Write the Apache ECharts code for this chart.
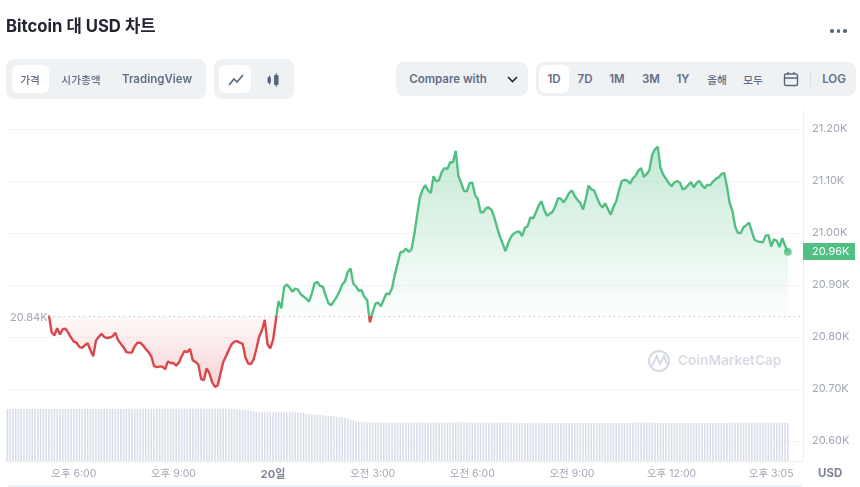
<!DOCTYPE html>
<html>
<head>
<meta charset="utf-8">
<title>Bitcoin 대 USD 차트</title>
<script src="https://cdn.jsdelivr.net/npm/echarts@6/dist/echarts.min.js"></script>
<style>
  html, body { margin: 0; padding: 0; background: #fff; }
  body { width: 860px; height: 487px; position: relative; overflow: hidden;
         font-family: Inter, "Noto Sans CJK KR", sans-serif; color: #616e85; }
  #chart { position: absolute; left: 0; top: 0; width: 860px; height: 487px; }
  .title { position: absolute; left: 6px; top: 14px; font-size: 16.7px; font-weight: 700; color: #222531; line-height: 24px; }
  .more { position: absolute; left: 830px; top: 29px; display: flex; gap: 3px; }
  .more i { width: 3.5px; height: 3.5px; border-radius: 50%; background: #58667e; }
  .panel { position: absolute; background: #eff2f5; border-radius: 8px; }
  .pill { position: absolute; background: #fff; border-radius: 6px; }
  .t { position: absolute; transform: translate(-50%, -50%); font-size: 11.5px; font-weight: 600; white-space: nowrap; }
  .k { font-size: 10.7px; font-weight: 500; }
  svg { position: absolute; }
</style>
</head>
<body>
<div id="chart"></div>

<div class="title">Bitcoin 대 USD 차트</div>
<div class="more"><i></i><i></i><i></i></div>

<div class="panel" style="left:6px;top:59px;width:200px;height:40px"></div>
<div class="pill" style="left:12px;top:65px;width:37px;height:28px"></div>
<div class="t k" style="left:30px;top:79px">가격</div>
<div class="t k" style="left:81px;top:79px">시가총액</div>
<div class="t" style="left:157px;top:79px">TradingView</div>

<div class="panel" style="left:214px;top:59px;width:80px;height:40px"></div>
<div class="pill" style="left:219px;top:65px;width:32px;height:28px"></div>
<svg style="left:228px;top:73px" width="16" height="14" viewBox="0 0 16 14" fill="none" stroke="#58667e" stroke-width="1.6"><path d="M1 12 L6 6 L9 9 L15 2"/></svg>
<svg style="left:266px;top:72px" width="14" height="16" viewBox="0 0 14 16" fill="#58667e"><rect x="1.5" y="5" width="3.5" height="6" rx="1"/><rect x="3" y="3.5" width="1" height="9"/><rect x="8" y="3" width="4.5" height="10" rx="1"/><rect x="9.7" y="1" width="1" height="14"/></svg>

<div class="panel" style="left:396px;top:62px;width:132px;height:34px"></div>
<div class="t" style="left:448px;top:79px">Compare with</div>
<svg style="left:506px;top:75px" width="13" height="9" viewBox="0 0 13 9" fill="none" stroke="#222531" stroke-width="1.6"><path d="M2 2 L6.5 6.5 L11 2"/></svg>

<div class="panel" style="left:536px;top:62px;width:320px;height:34px"></div>
<div class="pill" style="left:539px;top:65px;width:30px;height:28px"></div>
<div class="t" style="left:554px;top:79px">1D</div>
<div class="t" style="left:585px;top:79px">7D</div>
<div class="t" style="left:617px;top:79px">1M</div>
<div class="t" style="left:651px;top:79px">3M</div>
<div class="t" style="left:683px;top:79px">1Y</div>
<div class="t k" style="left:717px;top:79px">올해</div>
<div class="t k" style="left:753px;top:79px">모두</div>
<svg style="left:783px;top:71px" width="16" height="16" viewBox="0 0 16 16" fill="none" stroke="#58667e" stroke-width="1.4"><rect x="1.5" y="3" width="13" height="11.5" rx="1.5"/><path d="M1.5 7 H14.5 M5 1 V3 M11 1 V3"/></svg>
<div style="position:absolute;left:810px;top:72px;width:1px;height:14px;background:#d9dee6"></div>
<div class="t" style="left:834px;top:79px">LOG</div>

<script>
// chart values, one slot = 5 minutes
const slotCount = 288;
const tickSlots = [24, 60, 96, 132, 168, 204, 240, 276];
const tickLabels = ['오후 6:00', '오후 9:00', '20일', '오전 3:00', '오전 6:00', '오전 9:00', '오후 12:00', '오후 3:05'];
const yTicks = [20600, 20700, 20800, 20900, 21000, 21100, 21200];
const basePrice = 20840;
const priceStartSlot = 15;
const prices = [
  20842, 20809, 20803, 20817, 20805, 20815, 20816, 20808, 20799, 20791,
  20789, 20781, 20779, 20784, 20788, 20775, 20763, 20793, 20800, 20806,
  20800, 20798, 20799, 20801, 20808, 20794, 20787, 20780, 20771, 20770,
  20770, 20782, 20789, 20789, 20784, 20777, 20771, 20763, 20744, 20742,
  20743, 20743, 20738, 20753, 20750, 20750, 20745, 20751, 20763, 20773,
  20771, 20777, 20755, 20752, 20747, 20719, 20717, 20740, 20730, 20713,
  20704, 20707, 20730, 20752, 20763, 20775, 20786, 20791, 20792, 20789,
  20787, 20761, 20749, 20748, 20757, 20778, 20801, 20813, 20833, 20786,
  20778, 20794, 20832, 20869, 20855, 20896, 20901, 20895, 20887, 20893,
  20891, 20882, 20878, 20874, 20868, 20884, 20903, 20906, 20898, 20897,
  20880, 20865, 20861, 20869, 20877, 20888, 20901, 20907, 20925, 20932,
  20903, 20897, 20889, 20890, 20877, 20871, 20828, 20848, 20864, 20866,
  20859, 20872, 20884, 20882, 20894, 20920, 20941, 20963, 20964, 20970,
  20964, 20968, 20996, 21032, 21067, 21083, 21092, 21082, 21077, 21109,
  21099, 21102, 21118, 21125, 21123, 21136, 21136, 21158, 21109, 21096,
  21081, 21080, 21096, 21097, 21073, 21065, 21040, 21040, 21048, 21049,
  21044, 21029, 21010, 20993, 20979, 20965, 20981, 20993, 20999, 21002,
  21003, 20994, 21010, 21013, 21030, 21028, 21040, 21053, 21061, 21044,
  21033, 21037, 21041, 21051, 21067, 21066, 21059, 21067, 21077, 21082,
  21071, 21064, 21058, 21045, 21065, 21091, 21084, 21082, 21069, 21056,
  21049, 21057, 21046, 21035, 21050, 21061, 21082, 21100, 21102, 21101,
  21095, 21105, 21110, 21120, 21125, 21108, 21113, 21121, 21150, 21161,
  21166, 21125, 21112, 21104, 21096, 21090, 21097, 21100, 21097, 21084,
  21086, 21092, 21098, 21088, 21096, 21100, 21092, 21086, 21093, 21092,
  21099, 21104, 21107, 21113, 21116, 21090, 21058, 21042, 21012, 21000,
  21000, 21011, 21015, 21020, 21003, 20987, 20984, 20983, 20982, 20995,
  20996, 20974, 20988, 20985, 20973, 20990, 20976, 20964
];
const volumes = [
  52.0, 52.0, 51.9, 52.0, 52.0, 52.0, 51.9, 52.0, 52.0, 52.0, 52.0, 51.9, 52.0, 52.0, 52.0, 52.0, 51.9, 52.0, 52.0, 52.0,
  52.0, 52.0, 51.9, 52.0, 52.0, 52.0, 52.0, 52.0, 51.9, 52.0, 52.0, 52.0, 52.0, 52.0, 52.0, 51.9, 52.0, 52.0, 52.0, 52.0,
  52.1, 52.1, 52.0, 52.1, 52.2, 52.2, 52.1, 52.2, 52.2, 52.3, 52.2, 52.3, 52.3, 52.4, 52.3, 52.4, 52.4, 52.4, 52.5, 52.5,
  52.4, 52.5, 52.5, 52.6, 52.5, 52.5, 52.6, 52.5, 52.5, 52.5, 52.6, 52.6, 52.5, 52.5, 52.5, 52.4, 52.5, 52.4, 52.3, 52.3,
  52.2, 52.1, 52.0, 51.8, 51.6, 51.2, 50.8, 50.4, 50.0, 49.7, 49.4, 49.1, 48.9, 48.8, 48.7, 48.7, 48.8, 48.7, 48.7, 48.8,
  48.7, 48.7, 48.7, 48.8, 48.7, 48.6, 48.4, 47.8, 47.3, 47.0, 46.7, 46.4, 46.2, 46.0, 45.7, 45.4, 45.2, 45.0, 44.7, 44.4,
  44.0, 43.6, 43.1, 42.5, 41.6, 40.6, 39.6, 39.0, 38.6, 38.5, 38.4, 38.4, 38.3, 38.3, 38.4, 38.3, 38.3, 38.3, 38.2, 38.3,
  38.3, 38.2, 38.3, 38.2, 38.3, 38.3, 38.2, 38.2, 38.3, 38.2, 38.3, 38.2, 38.2, 38.2, 38.3, 38.2, 38.2, 38.3, 38.2, 38.2,
  38.4, 38.5, 38.5, 38.6, 38.5, 38.5, 38.4, 38.4, 38.3, 38.3, 38.3, 38.2, 38.2, 38.3, 38.2, 38.2, 38.2, 38.2, 38.1, 38.2,
  38.2, 38.2, 38.1, 38.1, 38.2, 38.1, 38.1, 38.1, 38.2, 38.1, 38.1, 38.2, 38.1, 38.1, 38.1, 38.1, 38.1, 38.0, 38.1, 38.1,
  38.0, 38.1, 38.1, 38.0, 38.0, 38.1, 38.0, 38.0, 38.0, 38.1, 38.0, 38.0, 38.0, 38.0, 38.1, 38.0, 38.0, 38.0, 38.0, 38.0,
  38.0, 38.1, 38.0, 38.0, 38.0, 38.1, 38.2, 38.2, 38.3, 38.2, 38.2, 38.2, 38.1, 38.2, 38.1, 38.1, 38.1, 38.1, 38.0, 38.1,
  38.0, 38.0, 38.1, 38.0, 38.0, 38.0, 38.1, 38.0, 38.0, 38.0, 38.0, 38.0, 38.1, 38.0, 38.0, 38.0, 38.1, 38.0, 38.0, 38.0,
  38.1, 38.2, 38.2, 38.3, 38.3, 38.2, 38.3, 38.3, 38.2, 38.3, 38.3, 38.2, 38.2, 38.2, 38.2, 38.2, 38.2, 38.2, 38.2, 38.2,
  38.2, 38.2, 38.2
];

const green = '#52bf82';
const red = '#d9474b';
const gray = '#a1a7b5';
const fontFamily = 'Inter, "Noto Sans CJK KR", sans-serif';

const gridLeft = 6, gridRight = 57;
const priceTop = 129, priceHeight = 312;
const volumeTop = 401, volumeHeight = 60;
const yMin = yTicks[0], yMax = yTicks[yTicks.length - 1];
const baseY = priceTop + (yMax - basePrice) / (yMax - yMin) * priceHeight;

const categories = Array.from({length: slotCount}, (_, i) => {
  const k = tickSlots.indexOf(i);
  return k >= 0 ? tickLabels[k] : String(i);
});
const showTick = i => tickSlots.indexOf(i) >= 0;
const lastSlot = priceStartSlot + prices.length - 1;

// line and fill change colour at the base price, so the gradients use page pixels
const topY = 145, bottomY = 389;
const baseStop = (baseY - topY) / (bottomY - topY);
const lineColor = new echarts.graphic.LinearGradient(0, topY, 0, bottomY, [
  {offset: 0, color: green},
  {offset: baseStop, color: green},
  {offset: baseStop, color: red},
  {offset: 1, color: red}
], true);
const areaColor = new echarts.graphic.LinearGradient(0, topY, 0, bottomY, [
  {offset: 0, color: 'rgba(82,191,130,0.34)'},
  {offset: baseStop, color: 'rgba(82,191,130,0.01)'},
  {offset: baseStop, color: 'rgba(217,71,75,0.03)'},
  {offset: 1, color: 'rgba(217,71,75,0.24)'}
], true);

const myChart = echarts.init(document.getElementById('chart'));
myChart.setOption({
  animation: false,
  textStyle: {fontFamily},
  grid: [
    {left: gridLeft, right: gridRight, top: priceTop, height: priceHeight},
    {left: gridLeft, right: gridRight, top: volumeTop, height: volumeHeight}
  ],
  xAxis: [
    {type: 'category', gridIndex: 0, data: categories, show: false},
    {
      type: 'category',
      gridIndex: 1,
      data: categories,
      axisLine: {lineStyle: {color: '#eceef2'}},
      axisTick: {alignWithLabel: true, interval: showTick, length: 3, lineStyle: {color: '#e4e7ec'}},
      axisLabel: {
        interval: showTick,
        color: gray,
        fontSize: 10.5,
        margin: 8,
        fontFamily,
        formatter: v => v === '20일' ? '{day|20일}' : v,
        rich: {day: {fontWeight: 700, color: '#7d8496', fontSize: 11, fontFamily}}
      }
    }
  ],
  yAxis: [
    {
      type: 'value',
      gridIndex: 0,
      position: 'right',
      min: yMin,
      max: yMax,
      interval: 100,
      axisLine: {show: false},
      axisTick: {show: false},
      splitLine: {lineStyle: {color: '#f4f5f7'}},
      axisLabel: {
        color: gray,
        fontSize: 11,
        margin: 9,
        padding: [3, 0, 0, 0],
        fontFamily,
        formatter: v => (v / 1000).toFixed(2) + 'K'
      }
    },
    {type: 'value', gridIndex: 1, min: 0, max: 60, show: false}
  ],
  series: [
    {
      type: 'bar',
      xAxisIndex: 1,
      yAxisIndex: 1,
      data: volumes,
      barWidth: 1.6,
      itemStyle: {color: '#d9dee8'},
      z: 1
    },
    {
      type: 'line',
      xAxisIndex: 0,
      yAxisIndex: 0,
      data: prices.map((p, k) => [k + priceStartSlot, p]),
      showSymbol: false,
      symbol: 'none',
      lineStyle: {width: 2.4, color: lineColor},
      areaStyle: {origin: basePrice, color: areaColor, opacity: 1},
      markLine: {
        silent: true,
        symbol: 'none',
        label: {show: false},
        lineStyle: {type: [1, 4], color: '#a9aebb', width: 1},
        data: [[{coord: [priceStartSlot, basePrice]}, {coord: [slotCount - 1, basePrice]}]]
      },
      z: 3
    },
    {
      type: 'scatter',
      xAxisIndex: 0,
      yAxisIndex: 0,
      data: [[lastSlot, prices[prices.length - 1]]],
      symbolSize: 8,
      itemStyle: {color: green},
      z: 4
    }
  ],
  graphic: [
    {type: 'line', shape: {x1: 803.5, y1: 110, x2: 803.5, y2: 461}, style: {stroke: '#eceef2', lineWidth: 1}, silent: true},
    {type: 'text', left: 10, top: baseY - 4, style: {text: '20.84K', fill: gray, fontSize: 11, fontFamily}},
    {type: 'rect', shape: {x: 803, y: 243, width: 52, height: 17}, style: {fill: green}},
    {type: 'text', left: 812, top: 246.5, style: {text: '20.96K', fill: '#fff', fontSize: 11, fontFamily}},
    {type: 'text', left: 818, top: 468, style: {text: 'USD', fill: '#7d8496', fontSize: 11.5, fontWeight: 700, fontFamily}},
    {type: 'circle', shape: {cx: 659, cy: 361, r: 10}, style: {fill: 'none', stroke: '#d6dae3', lineWidth: 2}},
    {type: 'polyline', shape: {points: [[652, 366], [657, 356], [660, 364], [664, 356], [667, 364]]}, style: {fill: 'none', stroke: '#d6dae3', lineWidth: 2}},
    {type: 'text', left: 678, top: 354.5, style: {text: 'CoinMarketCap', fill: '#d6dae3', fontSize: 13.7, fontWeight: 600, fontFamily}},
    {type: 'line', shape: {x1: 8, y1: 486, x2: 802, y2: 486}, style: {stroke: '#e9effa', lineWidth: 1.5}}
  ]
});
</script>
</body>
</html>
